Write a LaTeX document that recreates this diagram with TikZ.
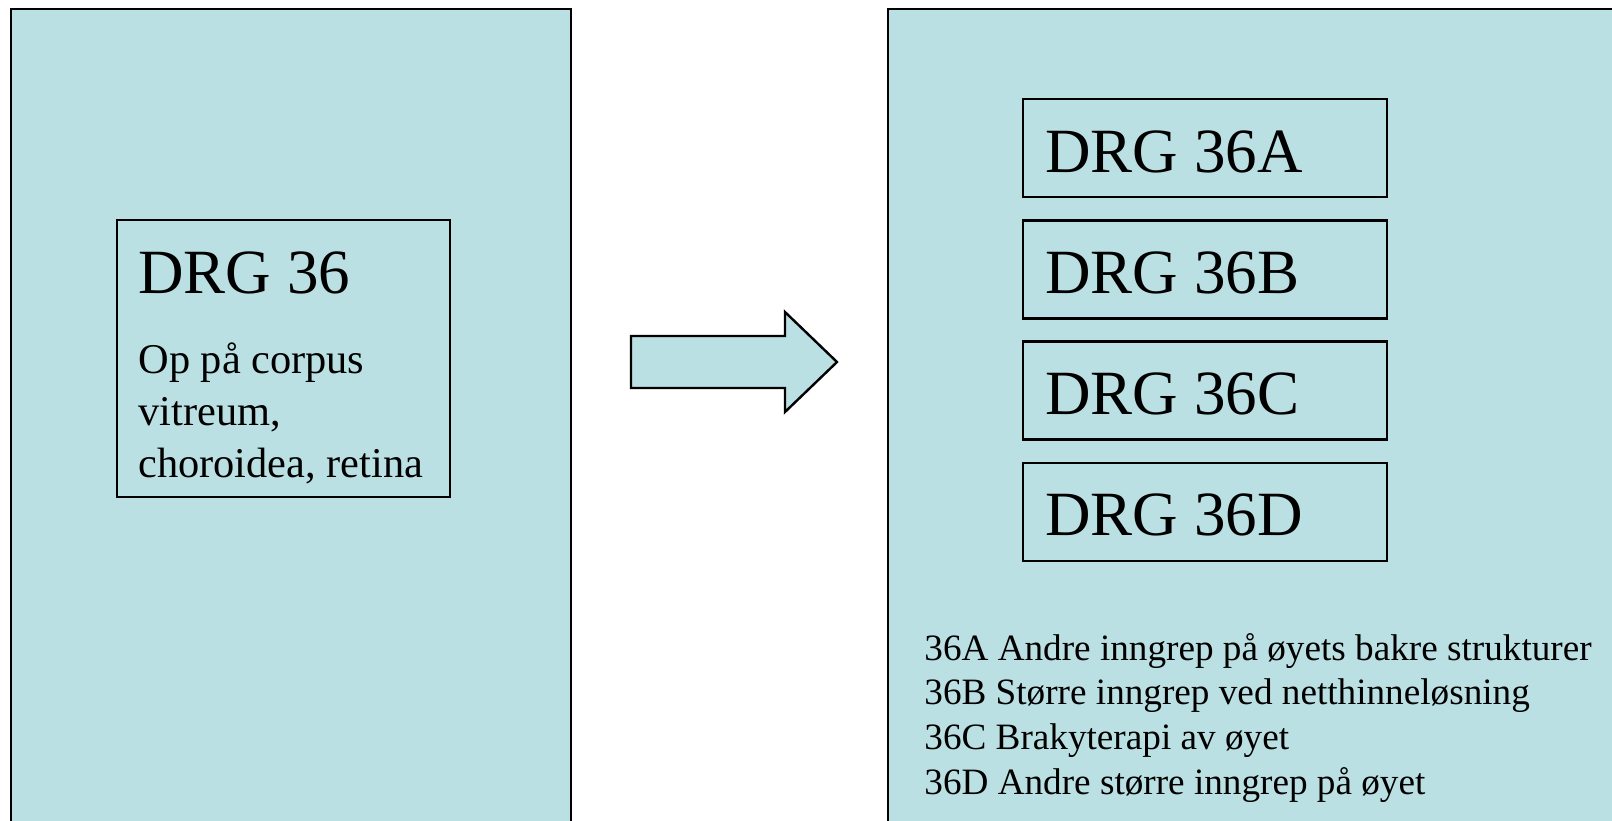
\documentclass[tikz,border=0pt]{standalone}
\usepackage{fontspec}
\setmainfont{Liberation Serif}
\definecolor{panelblue}{HTML}{BBE0E3}
\tikzset{
    panel/.style={draw=black, fill=panelblue, line width=1.2pt},
    drgbox/.style={draw=black, line width=1.2pt},
    bigtext/.style={font=\fontsize{31.5}{38}\selectfont, inner sep=0pt, anchor=base west},
    midtext/.style={font=\fontsize{21.2}{26}\selectfont, inner sep=0pt, anchor=base west},
    smalltext/.style={font=\fontsize{18.6}{22}\selectfont, inner sep=0pt, anchor=base west}
}
\begin{document}
\begin{tikzpicture}[x=0.5pt,y=-0.5pt]
    \useasboundingbox (0,0) rectangle (1612,820);
    \clip (0,0) rectangle (1612,820);
    % the two panels
    \draw[panel] (11,9) rectangle (571,840);
    \draw[panel] (888,9) rectangle (1640,840);
    % old group
    \draw[drgbox] (117,220) rectangle (450,497);
    \node[bigtext] (drg36) at (138,293) {DRG 36};
    \node[midtext] (op1) at (138,373) {Op på corpus};
    \node[midtext] (op2) at (138,425) {vitreum,};
    \node[midtext] (op3) at (138,477) {choroidea, retina};
    % block arrow
    \draw[panel] (631,336) -- (785,336) -- (785,312) -- (837,362) -- (785,412) -- (785,388) -- (631,388) -- cycle;
    % new groups
    \foreach \l [count=\i from 0] in {A,B,C,D} {
        \draw[drgbox] (1023,99+121.3*\i) rectangle ++(364,98);
        \node[bigtext] (drg36\l) at (1045,172+121.3*\i) {DRG 36\l};
    }
    \foreach \txt [count=\i from 0] in {36A Andre inngrep på øyets bakre strukturer,
        36B Større inngrep ved netthinneløsning,
        36C Brakyterapi av øyet,
        36D Andre større inngrep på øyet} {
        \node[smalltext] (code\i) at (924,660+44.8*\i) {\txt};
    }
\end{tikzpicture}
\end{document}
